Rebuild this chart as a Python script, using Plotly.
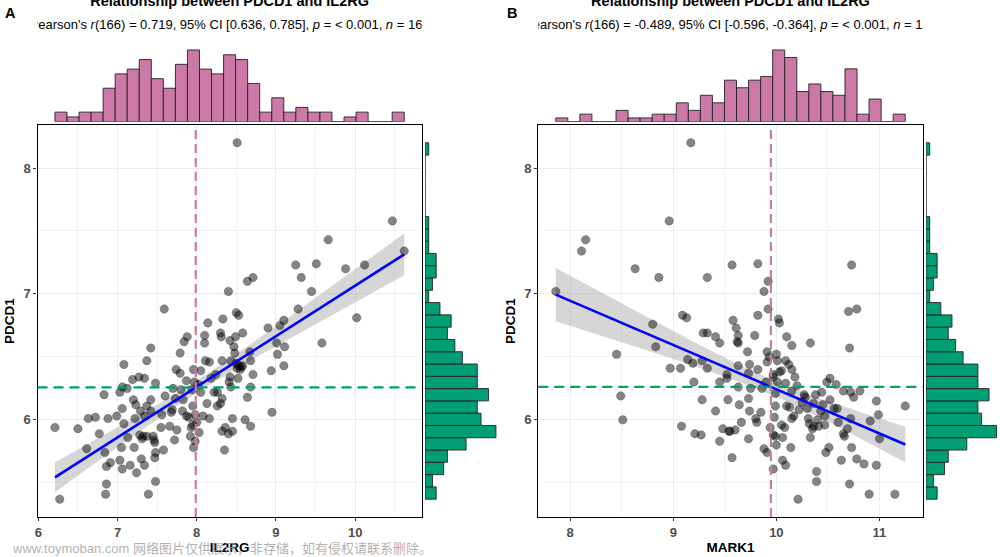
import numpy as np
import plotly.graph_objects as go

# ---------------- data ----------------
il2rg = [8.51, 10.47, 9.66, 10.62, 9.25, 9.51, 9.88, 10.12, 9.32, 8.64, 8.71, 9.45, 8.40,
         7.59, 8.50, 8.53, 8.33, 8.14, 9.28, 9.10, 9.05, 8.90, 10.02,
         7.88, 8.10, 8.30, 8.31, 8.49, 8.58, 7.84, 8.10, 8.42, 8.47,
         8.48, 7.79, 7.42, 8.11, 8.16, 8.32, 9.01, 9.11, 9.58, 8.67,
         9.02, 8.68, 8.43, 7.08, 7.37, 9.10, 8.94, 8.51, 8.55, 8.53,
         8.05, 7.96, 7.79, 8.71, 8.58, 8.24, 7.19, 7.27, 7.34, 7.48,
         8.42, 8.52, 8.41, 7.97, 7.06, 7.12, 7.70, 7.80, 7.94, 8.05,
         8.26, 8.68, 6.83, 7.03, 8.64, 7.20, 7.42, 7.23, 7.37, 7.29,
         7.42, 7.83, 7.73, 7.69, 7.68, 7.82, 7.95, 8.13, 8.26, 8.32,
         8.30, 8.95, 7.06, 6.99, 6.88, 6.72, 6.63, 7.08, 7.22, 7.34,
         7.56, 7.87, 7.98, 8.08, 8.16, 8.45, 8.61, 8.68, 6.21, 6.50,
         6.77, 7.13, 7.28, 7.32, 7.37, 7.45, 7.46, 7.66, 7.75, 7.55,
         7.93, 7.92, 7.95, 8.00, 8.32, 8.36, 8.40, 8.45, 6.61, 6.84,
         7.05, 7.21, 7.31, 7.47, 7.58, 7.48, 7.72, 7.98, 8.35, 6.91,
         7.03, 6.86, 7.16, 7.30, 7.34, 7.47, 7.06, 7.24, 6.86, 7.48,
         6.85, 7.39, 6.27,
         8.43, 8.50, 8.56, 7.87, 8.02, 8.18, 7.60, 7.90, 8.03, 7.96, 8.22, 7.74]
pdcd1_a = [8.20, 7.58, 7.43, 7.34, 7.23, 7.24, 7.20, 7.23, 7.13, 7.10, 7.13, 7.02, 7.02,
           6.88, 6.85, 6.83, 6.80, 6.77, 6.88, 6.79, 6.75, 6.73, 6.81,
           6.66, 6.67, 6.69, 6.66, 6.66, 6.69, 6.62, 6.61, 6.63, 6.58,
           6.53, 6.53, 6.57, 6.47, 6.46, 6.47, 6.61, 6.58, 6.61, 6.54,
           6.52, 6.47, 6.47, 6.44, 6.47, 6.43, 6.39, 6.41, 6.40, 6.43,
           6.39, 6.40, 6.37, 6.36, 6.43, 6.36, 6.32, 6.34, 6.33, 6.29,
           6.34, 6.33, 6.30, 6.30, 6.26, 6.25, 6.25, 6.24, 6.24, 6.22,
           6.22, 6.26, 6.20, 6.22, 6.18, 6.16, 6.16, 6.12, 6.11, 6.07,
           6.07, 6.16, 6.17, 6.08, 6.06, 6.07, 6.11, 6.13, 6.11, 6.17,
           6.13, 6.06, 6.09, 6.03, 6.01, 6.02, 6.01, 5.97, 6.01, 6.03,
           6.04, 6.03, 6.04, 6.03, 6.01, 6.01, 6.00, 5.95, 5.94, 5.93,
           5.89, 5.86, 5.88, 5.87, 5.87, 5.87, 5.84, 5.95, 5.92, 5.94,
           5.94, 5.87, 5.96, 5.98, 5.91, 5.94, 5.89, 5.91, 5.77, 5.74,
           5.78, 5.78, 5.85, 5.82, 5.76, 5.74, 5.84, 5.83, 5.76, 5.66,
           5.68, 5.63, 5.64, 5.69, 5.64, 5.70, 5.61, 5.58, 5.49, 5.51,
           5.41, 5.41, 5.37,
           6.26, 6.45, 6.42, 6.31, 6.28, 6.33, 6.19, 6.02, 5.90, 5.78, 6.22, 6.40]

mark1 = [9.17, 8.96, 8.15, 8.11, 8.63, 8.86, 9.33, 9.57, 9.82, 10.73, 9.92, 9.88, 7.86,
         9.09, 9.13, 9.58, 9.82, 9.92, 10.02, 10.03, 10.70, 10.78, 8.80,
         9.61, 9.29, 9.33, 9.41, 9.45, 9.63, 9.62, 9.63, 9.79, 10.10,
         10.15, 10.33, 10.71, 8.45, 8.83, 9.72, 9.91, 9.93, 9.91, 10.01,
         10.09, 10.05, 10.03, 10.15, 8.97, 9.07, 9.14, 9.19, 9.28, 9.33,
         9.52, 9.52, 9.63, 9.74, 9.73, 9.82, 9.97, 9.97, 9.86, 9.75,
         10.01, 10.09, 10.20, 10.15, 9.99, 10.27, 10.28, 10.38, 10.44, 10.49,
         10.52, 10.58, 10.65, 10.72, 10.75, 10.81, 10.52, 10.56, 10.97, 11.25,
         9.28, 9.53, 9.73, 9.64, 9.74, 9.41, 8.49, 8.51, 9.99, 10.10,
         10.13, 10.22, 10.30, 10.36, 10.43, 10.47, 10.17, 10.15, 10.31, 10.32,
         10.36, 10.35, 10.41, 10.47, 9.80, 9.81, 9.94, 10.08, 9.08, 9.21,
         9.27, 9.48, 9.54, 9.55, 9.60, 9.45, 9.73, 9.97, 9.99, 10.06,
         10.59, 10.72, 10.69, 10.65, 10.66, 10.91, 10.99, 11.00, 10.73, 10.51,
         10.48, 10.14, 9.88, 9.91, 9.57, 10.06, 10.09, 10.63, 10.78, 10.85,
         10.97, 9.97, 10.39, 10.39, 10.71, 10.90, 11.15, 10.21,
         9.85, 9.63, 10.00, 10.12, 10.25, 10.40, 10.05, 9.90, 10.18, 10.60,
         9.45, 9.66, 10.33, 10.00, 9.20, 10.45, 9.98]
pdcd1_b = [8.20, 7.58, 7.43, 7.34, 7.20, 7.13, 7.13, 7.23, 7.24, 7.23, 7.10, 7.02, 7.02,
           6.83, 6.81, 6.79, 6.83, 6.88, 6.80, 6.77, 6.86, 6.88, 6.76,
           6.73, 6.69, 6.69, 6.66, 6.61, 6.67, 6.62, 6.61, 6.67, 6.66,
           6.59, 6.61, 6.57, 6.52, 6.58, 6.54, 6.54, 6.50, 6.46, 6.47,
           6.47, 6.39, 6.38, 6.40, 6.41, 6.41, 6.48, 6.45, 6.47, 6.41,
           6.36, 6.33, 6.43, 6.44, 6.37, 6.40, 6.36, 6.34, 6.25, 6.25,
           6.30, 6.29, 6.27, 6.23, 6.21, 6.20, 6.18, 6.20, 6.22, 6.30,
           6.33, 6.28, 6.23, 6.22, 6.18, 6.23, 6.16, 6.09, 6.15, 6.11,
           6.16, 6.16, 6.17, 6.12, 6.07, 6.07, 6.19, 6.00, 6.11, 6.11,
           6.10, 6.08, 6.09, 6.13, 6.07, 6.03, 6.03, 6.01, 6.01, 5.97,
           5.95, 5.93, 5.95, 5.96, 6.01, 5.98, 5.94, 5.94, 5.95, 5.89,
           5.88, 5.93, 5.91, 5.91, 5.92, 5.83, 5.85, 5.88, 5.87, 5.86,
           6.09, 6.01, 5.93, 5.89, 5.87, 5.99, 6.04, 5.85, 5.78, 5.78,
           5.74, 5.78, 5.77, 5.74, 5.70, 5.68, 5.64, 5.68, 5.69, 5.65,
           5.64, 5.61, 5.59, 5.51, 5.49, 5.41, 5.41, 5.37,
           6.06, 6.26, 6.52, 6.44, 6.14, 6.00, 5.96, 6.30, 6.34, 5.98,
           6.30, 5.98, 5.86, 5.80, 6.30, 6.12, 6.02]

# marginal histogram counts (29 bins spanning each variable's range)
il2rg_counts = [2, 1, 2, 2, 7, 10, 11, 13, 9, 7, 12, 15, 11, 10, 14, 13, 8, 2, 5, 2, 3, 2, 2, 0, 1, 2, 0, 0, 2]
mark1_counts = [1, 0, 2, 0, 0, 3, 1, 1, 2, 2, 5, 3, 7, 5, 11, 9, 11, 12, 19, 17, 8, 10, 8, 7, 14, 2, 6, 0, 2]
pdcd1_counts = [3, 2, 5, 6, 11, 19, 15, 14, 17, 14, 14, 10, 8, 6, 7, 4, 1, 2, 3, 3, 1, 1, 1, 0, 0, 0, 0, 0, 1]

panel_letters = ["A", "B"]
titles = ["Relationship between PDCD1 and IL2RG", "Relationship between PDCD1 and IL2RG"]
subtitles = [
    "Pearson's <i>r</i>(166) = 0.719, 95% CI [0.636, 0.785], <i>p</i> = < 0.001, <i>n</i> = 168",
    "Pearson's <i>r</i>(166) = -0.489, 95% CI [-0.596, -0.364], <i>p</i> = < 0.001, <i>n</i> = 168",
]
x_titles = ["IL2RG", "MARK1"]
y_title = "PDCD1"
x_ticks = [[6, 7, 8, 9, 10], [8, 9, 10, 11]]
y_ticks = [6, 7, 8]
watermark = "www.toymoban.com 网络图片仅供展示，非存储，如有侵权请联系删除。"

# ---------------- styling ----------------
FONT = "Liberation Sans, Arial, sans-serif"
PINK = "#CC79A7"
GREEN = "#009E73"
W, H = 1000, 557


def fx(px):
    return px / W


def fy(py):
    return 1 - py / H


def fit(x, y):
    x = np.asarray(x, float)
    y = np.asarray(y, float)
    n = len(x)
    b1, b0 = np.polyfit(x, y, 1)
    xs = np.linspace(x.min(), x.max(), 80)
    yh = b0 + b1 * xs
    res = y - (b0 + b1 * x)
    s = np.sqrt(np.sum(res ** 2) / (n - 2))
    sxx = np.sum((x - x.mean()) ** 2)
    se = s * np.sqrt(1 / n + (xs - x.mean()) ** 2 / sxx)
    t = 1.9744
    return xs, yh, yh - t * se, yh + t * se


def expand(v, f=0.05):
    lo, hi = min(v), max(v)
    d = (hi - lo) * f
    return [lo - d, hi + d]


def bins(v, counts):
    edges = np.linspace(min(v), max(v), len(counts) + 1)
    return (edges[:-1] + edges[1:]) / 2, edges[1] - edges[0]


fig = go.Figure()
layout = dict(width=W, height=H, margin=dict(l=0, r=0, t=0, b=0),
              paper_bgcolor="white", plot_bgcolor="white", showlegend=False,
              font=dict(family=FONT, color="black"))

panels = [
    dict(x=il2rg, y=pdcd1_a, xc=il2rg_counts, left=37.5, right=421.7, rh=(425, 499.5)),
    dict(x=mark1, y=pdcd1_b, xc=mark1_counts, left=538.3, right=922.7, rh=(926, 1000)),
]
top_py, bot_py = 125, 517
hist_base, hist_top = 121.7, 46.4
shapes = []
annotations = []

for i, p in enumerate(panels):
    k = 4 * i
    sx, sy = f"x{k + 1 if k else ''}", f"y{k + 1 if k else ''}"
    tx, ty = f"x{k + 2}", f"y{k + 2}"
    rx, ry = f"x{k + 3}", f"y{k + 3}"
    cx, cy = f"x{k + 4}", f"y{k + 4}"
    xr = expand(p["x"])
    yr = expand(p["y"])
    dom_x = [fx(p["left"]), fx(p["right"])]
    dom_y = [fy(bot_py), fy(top_py)]

    # CI band
    xs, yh, lo, hi = fit(p["x"], p["y"])
    fig.add_trace(go.Scatter(x=np.concatenate([xs, xs[::-1]]), y=np.concatenate([hi, lo[::-1]]),
                             fill="toself", fillcolor="rgba(153,153,153,0.4)", line=dict(width=0),
                             mode="lines", hoverinfo="skip", xaxis=sx, yaxis=sy))
    # points
    fig.add_trace(go.Scatter(x=p["x"], y=p["y"], mode="markers",
                             marker=dict(size=8.5, color="rgba(0,0,0,0.48)",
                                         line=dict(width=0.6, color="rgba(0,0,0,0.35)")),
                             xaxis=sx, yaxis=sy))
    # regression line
    fig.add_trace(go.Scatter(x=xs, y=yh, mode="lines", line=dict(color="#0000FF", width=2.6),
                             xaxis=sx, yaxis=sy))

    # top marginal histogram
    cen, wid = bins(p["x"], p["xc"])
    fig.add_trace(go.Bar(x=cen, y=p["xc"], width=wid, marker=dict(color=PINK, line=dict(color="#222", width=0.9)),
                         xaxis=tx, yaxis=ty))
    # right marginal histogram
    ceny, widy = bins(p["y"], pdcd1_counts)
    fig.add_trace(go.Bar(y=ceny, x=pdcd1_counts, width=widy, orientation="h",
                         marker=dict(color=GREEN, line=dict(color="#222", width=0.9)),
                         xaxis=rx, yaxis=ry))

    # title / subtitle (clipped to the panel width)
    fig.add_trace(go.Scatter(x=[0.5], y=[0.93], mode="text", text=[f"<b>{titles[i]}</b>"],
                             textfont=dict(size=14.5, family=FONT, color="black"), cliponaxis=True,
                             xaxis=cx, yaxis=cy))
    fig.add_trace(go.Scatter(x=[0.5], y=[0.36], mode="text", text=[subtitles[i]],
                             textfont=dict(size=13, family=FONT, color="black"), cliponaxis=True,
                             xaxis=cx, yaxis=cy))

    axname = lambda a: a[0] + "axis" + a[1:]
    grid = dict(showgrid=True, gridcolor="#EBEBEB", gridwidth=1,
                minor=dict(dtick=0.5, showgrid=True, gridcolor="#F2F2F2", gridwidth=0.8),
                showline=True, mirror=True, linecolor="black", linewidth=1.4,
                ticks="outside", ticklen=3, tickcolor="#333", tickwidth=1,
                tickfont=dict(size=13, family=FONT, color="#4D4D4D", weight="bold"),
                zeroline=False, automargin=False)
    layout[axname(sx)] = dict(domain=dom_x, range=xr, anchor=sy, tickvals=x_ticks[i],
                              title=dict(text=x_titles[i], font=dict(size=13.5, weight="bold", color="black"), standoff=3),
                              **grid)
    layout[axname(sy)] = dict(domain=dom_y, range=yr, anchor=sx, tickvals=y_ticks,
                              title=dict(text=y_title, font=dict(size=13.5, weight="bold", color="black"), standoff=5),
                              **grid)
    hidden = dict(visible=False, showgrid=False, zeroline=False, fixedrange=True)
    layout[axname(tx)] = dict(domain=dom_x, range=xr, anchor=ty, **hidden)
    layout[axname(ty)] = dict(domain=[fy(hist_base), fy(hist_top)], range=[0, max(p["xc"]) * 1.05], anchor=tx, **hidden)
    layout[axname(rx)] = dict(domain=[fx(p["rh"][0]), fx(p["rh"][1])], range=[0, max(pdcd1_counts) * 1.05], anchor=ry, **hidden)
    layout[axname(ry)] = dict(domain=dom_y, range=yr, anchor=rx, **hidden)
    layout[axname(cx)] = dict(domain=dom_x, range=[0, 1], anchor=cy, **hidden)
    layout[axname(cy)] = dict(domain=[fy(40), 1], range=[0, 1], anchor=cx, **hidden)

    # mean lines
    mx, my = float(np.mean(p["x"])), float(np.mean(p["y"]))
    shapes.append(dict(type="line", xref=sx, yref=f"{sy} domain", x0=mx, x1=mx, y0=0, y1=1,
                       line=dict(color=PINK, width=2.2, dash="9px,5px"), layer="above"))
    shapes.append(dict(type="line", xref=f"{sx} domain", yref=sy, x0=0, x1=1, y0=my, y1=my,
                       line=dict(color=GREEN, width=2.2, dash="10px,6px"), layer="above"))

    annotations.append(dict(text=f"<b>{panel_letters[i]}</b>", x=fx(3 + 502 * i), y=fy(13), xref="paper", yref="paper",
                            xanchor="left", yanchor="middle", showarrow=False,
                            font=dict(size=14.5, family=FONT, color="black")))

annotations.append(dict(text=watermark, x=fx(10), y=fy(548), xref="paper", yref="paper", xanchor="left",
                        yanchor="middle", showarrow=False,
                        font=dict(size=13, family="Liberation Sans, Noto Sans CJK SC, sans-serif", color="rgba(150,150,150,0.75)")))

layout["shapes"] = shapes
layout["annotations"] = annotations
fig.update_layout(**layout)
fig.write_html("out.html", config={"displayModeBar": False},
               post_script="document.body.style.margin='0px';document.body.style.overflow='hidden';")
